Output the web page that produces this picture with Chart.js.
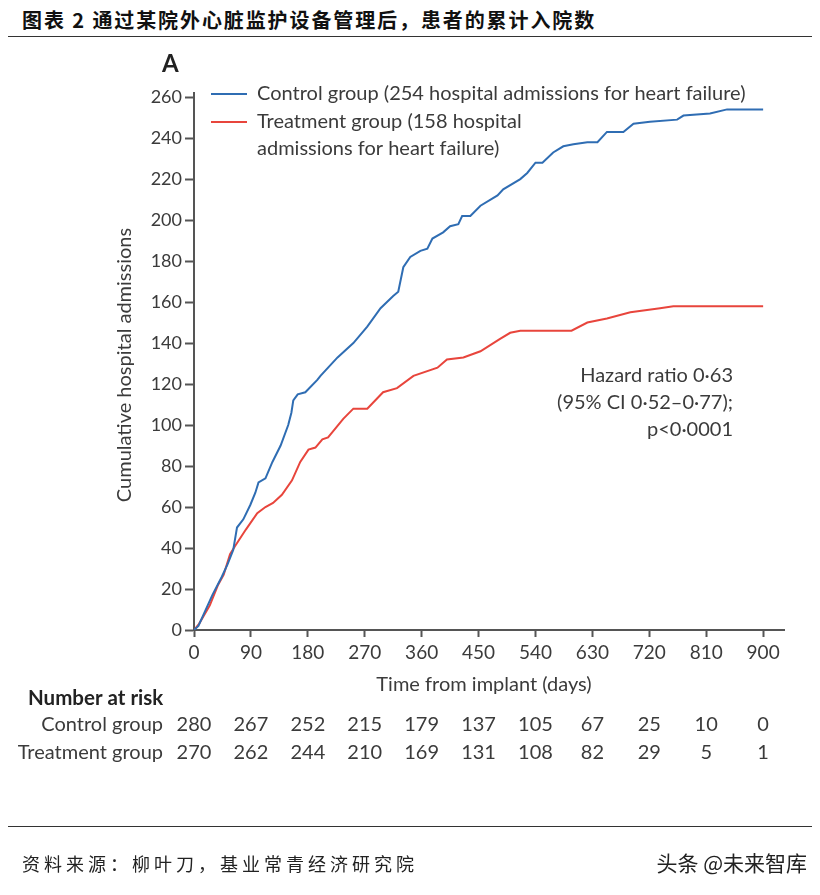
<!DOCTYPE html>
<html>
<head>
<meta charset="utf-8">
<script src="https://cdn.jsdelivr.net/npm/chart.js@4/dist/chart.umd.min.js"></script>
<style>
  html, body { margin: 0; padding: 0; background: #fff; }
  body { width: 820px; height: 895px; position: relative; overflow: hidden; }
  #title { position: absolute; left: 22px; top: 5px; font-family: "Noto Sans CJK SC", sans-serif; font-weight: bold; font-size: 20px; letter-spacing: 1.9px; color: #111; white-space: nowrap; }
  .rule { position: absolute; left: 8px; width: 804px; height: 0; border-top: 1.5px solid #333; }
  #source { position: absolute; left: 22px; top: 850px; font-family: "Noto Sans CJK SC", serif; font-size: 18px; letter-spacing: 4px; color: #222; white-space: nowrap; }
  #brand { position: absolute; right: 13px; top: 847px; font-family: "Noto Sans CJK SC", sans-serif; font-size: 21px; color: #222; white-space: nowrap; }
  #c { position: absolute; left: 0; top: 0; }
</style>
</head>
<body>
<div id="title">图表 2 通过某院外心脏监护设备管理后，患者的累计入院数</div>
<div class="rule" style="top:36px"></div>
<canvas id="c" width="820" height="895"></canvas>
<div class="rule" style="top:826px"></div>
<div id="source">资料来源：柳叶刀，基业常青经济研究院</div>
<div id="brand">头条 @未来智库</div>
<script>
// (days, cumulative admissions)
const controlDays = [0, 7, 29, 44, 53, 62, 68, 78, 89, 97, 102, 113, 124, 137, 149, 154, 157, 164, 176, 195, 200, 227, 252, 274, 295, 315, 323, 331, 342, 358, 369, 377, 394, 405, 418, 424, 437, 453, 480, 489, 516, 527, 540, 551, 568, 584, 600, 622, 638, 653, 679, 695, 721, 764, 774, 816, 843, 900];
const controlVals = [0, 2, 17, 26, 32, 39, 50, 54, 61, 67, 72, 74, 82, 90, 100, 106, 112, 115, 116, 122, 124, 133, 140, 148, 157, 163, 165, 177, 182, 185, 186, 191, 194, 197, 198, 202, 202, 207, 212, 215, 220, 223, 228, 228, 233, 236, 237, 238, 238, 243, 243, 247, 248, 249, 251, 252, 254, 254];
const treatDays = [0, 8, 25, 38, 47, 57, 65, 82, 100, 113, 125, 139, 155, 168, 181, 192, 203, 212, 236, 252, 274, 299, 321, 347, 385, 400, 426, 453, 484, 500, 516, 597, 622, 653, 690, 737, 758, 900];
const treatVals = [0, 3, 12, 22, 27, 37, 41, 49, 57, 60, 62, 66, 73, 82, 88, 89, 93, 94, 103, 108, 108, 116, 118, 124, 128, 132, 133, 136, 142, 145, 146, 146, 150, 152, 155, 157, 158, 158];

const xTicks = [0, 90, 180, 270, 360, 450, 540, 630, 720, 810, 900];
const yTicks = [0, 20, 40, 60, 80, 100, 120, 140, 160, 180, 200, 220, 240, 260];

const controlRisk = [280, 267, 252, 215, 179, 137, 105, 67, 25, 10, 0];
const treatRisk = [270, 262, 244, 210, 169, 131, 108, 82, 29, 5, 1];

const seriesLabels = ['Control group (254 hospital admissions for heart failure)', 'Treatment group (158 hospital admissions for heart failure)'];
const hazardText = ['Hazard ratio 0\u00b763', '(95% CI 0\u00b752\u20130\u00b777);', 'p<0\u00b70001'];

const BLUE = '#2f6db3';
const RED = '#e8453c';
const INK = '#3b3b3b';
const SANS = 'Lato, "Open Sans", sans-serif';

function pts(xs, ys) {
    return xs.map((x, i) => ({x: x, y: ys[i]}));
}

const extras = {
    id: 'extras',
    afterDraw(chart) {
        const ctx = chart.ctx;
        const x = chart.scales.x;
        ctx.save();
        ctx.textBaseline = 'middle';

        // panel letter
        ctx.font = 'bold 24px ' + SANS;
        ctx.fillStyle = '#222';
        ctx.fillText('A', 162, 64);

        // legend
        ctx.fillStyle = INK;
        ctx.font = '20px ' + SANS;
        ctx.lineWidth = 2;
        ctx.strokeStyle = BLUE;
        ctx.beginPath(); ctx.moveTo(211, 94); ctx.lineTo(247, 94); ctx.stroke();
        ctx.fillText(chart.data.datasets[0].label, 257, 94);
        ctx.strokeStyle = RED;
        ctx.beginPath(); ctx.moveTo(211, 122); ctx.lineTo(247, 122); ctx.stroke();
        ctx.fillText('Treatment group (158 hospital', 257, 122);
        ctx.fillText('admissions for heart failure)', 257, 149);

        // hazard ratio
        ctx.textAlign = 'right';
        hazardText.forEach((t, i) => ctx.fillText(t, 733, 376 + i * 27));

        // axis titles
        ctx.textAlign = 'center';
        ctx.save();
        ctx.translate(125, 365);
        ctx.rotate(-Math.PI / 2);
        ctx.fillText('Cumulative hospital admissions', 0, 0);
        ctx.restore();
        ctx.fillText('Time from implant (days)', 484, 685);

        // number at risk
        ctx.textAlign = 'left';
        ctx.font = 'bold 20.5px ' + SANS;
        ctx.fillStyle = '#222';
        ctx.fillText('Number at risk', 28, 698);
        ctx.fillStyle = INK;
        ctx.font = '20px ' + SANS;
        ctx.textAlign = 'right';
        ctx.fillText('Control group', 163, 725);
        ctx.fillText('Treatment group', 163, 753);
        ctx.textAlign = 'center';
        xTicks.forEach((v, i) => {
            const px = x.getPixelForValue(v);
            ctx.fillText(String(controlRisk[i]), px, 725);
            ctx.fillText(String(treatRisk[i]), px, 753);
        });
        ctx.restore();
    }
};

new Chart(document.getElementById('c'), {
    type: 'line',
    data: {
        datasets: [{
            label: seriesLabels[0],
            data: pts(controlDays, controlVals),
            borderColor: BLUE,
            borderWidth: 2,
            pointRadius: 0,
            tension: 0
        }, {
            label: seriesLabels[1],
            data: pts(treatDays, treatVals),
            borderColor: RED,
            borderWidth: 2,
            pointRadius: 0,
            tension: 0
        }]
    },
    options: {
        responsive: false,
        animation: false,
        layout: {
            padding: {left: 0, right: 36, top: 93, bottom: 225}
        },
        plugins: {
            legend: {display: false},
            tooltip: {enabled: false}
        },
        scales: {
            x: {
                type: 'linear',
                min: 0,
                max: 933,
                afterBuildTicks: s => { s.ticks = xTicks.map(v => ({value: v})); },
                afterFit: s => { s.height = 40; },
                grid: {drawOnChartArea: false, tickLength: 7, tickColor: '#555', tickWidth: 2},
                border: {color: '#555', width: 2},
                ticks: {color: INK, padding: 4, maxRotation: 0, font: {family: SANS, size: 19}}
            },
            y: {
                min: 0,
                max: 262,
                afterBuildTicks: s => { s.ticks = yTicks.map(v => ({value: v})); },
                afterFit: s => { s.width = 194; },
                grid: {drawOnChartArea: false, tickLength: 9, tickColor: '#555', tickWidth: 2},
                border: {color: '#555', width: 2},
                ticks: {color: INK, padding: 3, font: {family: SANS, size: 18}}
            }
        }
    },
    plugins: [extras]
});
</script>
</body>
</html>
